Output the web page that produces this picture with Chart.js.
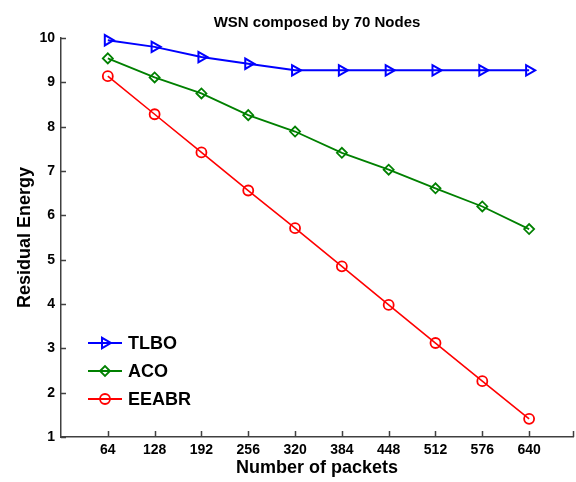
<!DOCTYPE html>
<html>
<head>
<meta charset="utf-8">
<script src="https://cdn.jsdelivr.net/npm/chart.js@4.4.0/dist/chart.umd.min.js"></script>
<style>
  html, body { margin: 0; padding: 0; background: #fff; }
  #wrap { width: 576px; height: 482px; }
</style>
</head>
<body>
<div id="wrap"><canvas id="energyChart" width="576" height="482"></canvas></div>
<script>
// packets sent vs residual energy, 70 node network
var packets = [64, 128, 192, 256, 320, 384, 448, 512, 576, 640];
var tlbo  = [9.95, 9.80, 9.57, 9.42, 9.27, 9.27, 9.27, 9.27, 9.27, 9.27];
var aco   = [9.54, 9.11, 8.75, 8.26, 7.89, 7.41, 7.03, 6.61, 6.20, 5.69];
var eeabr = [9.14, 8.28, 7.42, 6.56, 5.71, 4.85, 3.98, 3.12, 2.26, 1.41];
var yTicks = [1, 2, 3, 4, 5, 6, 7, 8, 9, 10];

var axisColor = '#404040';
var fontFamily = '"Liberation Sans", Arial, Helvetica, sans-serif';

function toPoints(vals) {
  return vals.map(function(v, i) { return { x: packets[i], y: v }; });
}

// matlab style inward tick marks
var innerTicks = {
  id: 'innerTicks',
  beforeDatasetsDraw: function(chart) {
    var ctx = chart.ctx, area = chart.chartArea;
    var xs = chart.scales.x, ys = chart.scales.y;
    ctx.save();
    ctx.strokeStyle = axisColor;
    ctx.lineWidth = 1.5;
    ctx.beginPath();
    xs.ticks.forEach(function(t) {
      var px = Math.round(xs.getPixelForValue(t.value)) + 0.5;
      ctx.moveTo(px, area.bottom);
      ctx.lineTo(px, area.bottom - 6);
    });
    ys.ticks.forEach(function(t) {
      var py = Math.round(ys.getPixelForValue(t.value)) + 0.5;
      ctx.moveTo(area.left, py);
      ctx.lineTo(area.left + 5, py);
    });
    ctx.stroke();
    ctx.restore();
  }
};

// legend with line segment + marker, lower left of plot
var lineLegend = {
  id: 'lineLegend',
  afterDraw: function(chart) {
    var ctx = chart.ctx, area = chart.chartArea;
    var x0 = area.left + 27, y0 = area.bottom - 94;
    ctx.save();
    chart.data.datasets.forEach(function(ds, i) {
      var y = y0 + i * 28;
      ctx.strokeStyle = ds.borderColor;
      ctx.lineWidth = 2;
      ctx.beginPath();
      ctx.moveTo(x0, y);
      ctx.lineTo(x0 + 34, y);
      ctx.stroke();
      ctx.fillStyle = 'rgba(0,0,0,0)';
      ctx.lineWidth = ds.pointBorderWidth;
      Chart.helpers.drawPoint(ctx, {
        pointStyle: ds.pointStyle,
        radius: ds.pointRadius,
        rotation: ds.pointRotation || 0,
        borderWidth: ds.pointBorderWidth
      }, x0 + 17, y);
      ctx.fillStyle = '#000';
      ctx.font = 'bold 18px ' + fontFamily;
      ctx.textBaseline = 'middle';
      ctx.fillText(ds.label, x0 + 40, y + 1);
    });
    ctx.restore();
  }
};

var ctx = document.getElementById('energyChart').getContext('2d');

var data = {
  datasets: [
    {
      label: 'TLBO',
      data: toPoints(tlbo),
      borderColor: '#0000ff',
      borderWidth: 2,
      clip: false,
      pointStyle: 'triangle',
      pointRotation: 90,
      pointRadius: 6,
      pointBorderWidth: 2,
      pointBackgroundColor: 'rgba(0,0,0,0)',
      pointBorderColor: '#0000ff'
    },
    {
      label: 'ACO',
      data: toPoints(aco),
      borderColor: '#008000',
      borderWidth: 1.8,
      clip: false,
      pointStyle: 'rectRot',
      pointRadius: 5,
      pointBorderWidth: 1.8,
      pointBackgroundColor: 'rgba(0,0,0,0)',
      pointBorderColor: '#008000'
    },
    {
      label: 'EEABR',
      data: toPoints(eeabr),
      borderColor: '#ff0000',
      borderWidth: 1.6,
      clip: false,
      pointStyle: 'circle',
      pointRadius: 5,
      pointBorderWidth: 1.8,
      pointBackgroundColor: 'rgba(0,0,0,0)',
      pointBorderColor: '#ff0000'
    }
  ]
};

var options = {
  responsive: false,
  animation: false,
  layout: { autoPadding: false, padding: { right: 3 } },
  plugins: {
    legend: { display: false },
    tooltip: { enabled: false },
    title: {
      display: true,
      fullSize: false,
      text: 'WSN composed by 70 Nodes',
      color: '#000',
      font: { family: fontFamily, size: 15, weight: 'bold' },
      padding: { top: 14, bottom: 6 }
    }
  },
  elements: { line: { tension: 0 } },
  scales: {
    x: {
      type: 'linear',
      min: 0,
      max: 700,
      afterFit: function(s) {
        s.height = 45;
        s.paddingLeft = 0;
        s.paddingRight = 0;
      },
      afterBuildTicks: function(s) {
        s.ticks = packets.concat([700]).map(function(v) { return { value: v }; });
      },
      grid: { display: false, drawTicks: false },
      border: { display: true, color: axisColor, width: 1.5 },
      ticks: {
        color: '#000',
        padding: 5,
        maxRotation: 0,
        autoSkip: false,
        font: { family: fontFamily, size: 14, weight: 'bold' },
        callback: function(v) { return v === 700 ? '' : v; }
      },
      title: {
        display: true,
        text: 'Number of packets',
        color: '#000',
        font: { family: fontFamily, size: 18, weight: 'bold' },
        padding: { top: 0, bottom: 3 }
      }
    },
    y: {
      min: 1,
      max: 10,
      afterFit: function(s) { s.width = 61; },
      afterBuildTicks: function(s) {
        s.ticks = yTicks.map(function(v) { return { value: v }; });
      },
      grid: { display: false, drawTicks: false },
      border: { display: true, color: axisColor, width: 1.5 },
      ticks: {
        color: '#000',
        padding: 6,
        font: { family: fontFamily, size: 14, weight: 'bold' }
      },
      title: {
        display: true,
        text: 'Residual Energy',
        color: '#000',
        font: { family: fontFamily, size: 18, weight: 'bold' },
        padding: { top: 14, bottom: 0 }
      }
    }
  }
};

var energyChart = new Chart(ctx, {
  type: 'line',
  data: data,
  options: options,
  plugins: [innerTicks, lineLegend]
});
</script>
</body>
</html>
